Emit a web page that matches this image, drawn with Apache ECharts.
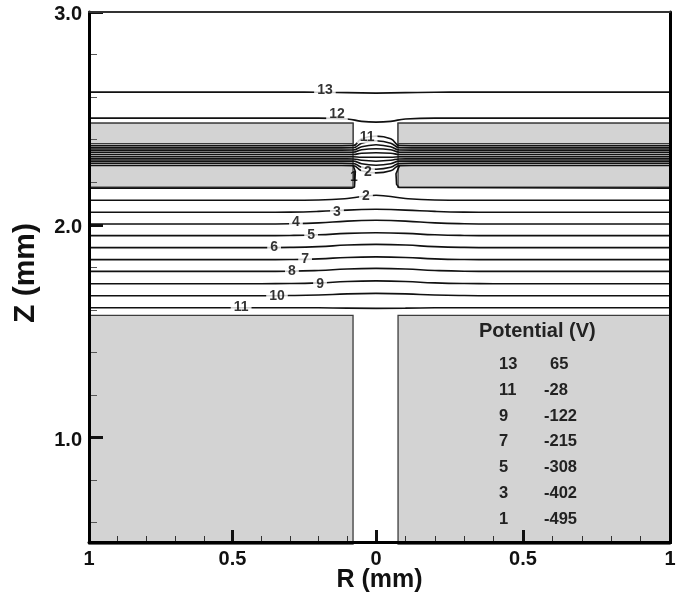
<!DOCTYPE html>
<html><head><meta charset="utf-8">
<style>html,body{margin:0;padding:0;background:#fff}#c{width:681px;height:598px}</style>
<script src="https://cdn.jsdelivr.net/npm/echarts@6/dist/echarts.min.js"></script>
</head><body><div id="c"></div>
<script>
// Contours far from the gap share these R stations
const rOuter = [-1,-0.4,-0.3,-0.2,-0.1,0,0.1,0.2,0.3,0.4,1];
const line13 = [2.6235,2.6235,2.6235,2.623,2.621,2.619,2.621,2.623,2.6235,2.6235,2.6235];
const line3  = [2.0588,2.0588,2.0597,2.063,2.069,2.0729,2.069,2.063,2.0597,2.0588,2.0588];
const line4  = [2.0038,2.0038,2.005,2.009,2.0174,2.0212,2.0174,2.009,2.005,2.0038,2.0038];
const line5  = [1.9492,1.9492,1.950,1.953,1.9595,1.9624,1.9595,1.953,1.950,1.9492,1.9492];
const line6  = [1.8927,1.8927,1.8937,1.8973,1.9048,1.9082,1.9048,1.8973,1.8937,1.8927,1.8927];
const line7  = [1.8362,1.8362,1.837,1.840,1.8465,1.8494,1.8465,1.840,1.837,1.8362,1.8362];
const line8  = [1.7812,1.7812,1.782,1.7855,1.792,1.7953,1.792,1.7855,1.782,1.7812,1.7812];
const line9  = [1.7233,1.7233,1.724,1.727,1.7335,1.7365,1.7335,1.727,1.724,1.7233,1.7233];
const line10 = [1.6668,1.6668,1.6675,1.670,1.6755,1.6776,1.6755,1.670,1.6675,1.6668,1.6668];
const line11 = [1.6104,1.6104,1.6104,1.6100,1.6085,1.6071,1.6085,1.6100,1.6104,1.6104,1.6104];
// Contours 12 and 2 change faster near the axis
const rNear  = [-1,-0.3,-0.2,-0.1,-0.05,0,0.05,0.1,0.2,0.3,1];
const line12 = [2.5012,2.5012,2.5012,2.4975,2.486,2.4824,2.486,2.4975,2.5012,2.5012,2.5012];
const line2  = [2.1153,2.1153,2.1165,2.1235,2.1330,2.1388,2.1330,2.1235,2.1165,2.1153,2.1153];
// Contours through the gap between the upper electrodes
const rBand = [-1,-0.12,-0.08,-0.05,0,0.05,0.08,0.12,1];
const band11 = [2.3718,2.3718,2.3725,2.4047,2.4165,2.4047,2.3725,2.3718,2.3718];
const band10 = [2.3614,2.3614,2.3620,2.3835,2.3953,2.3835,2.3620,2.3614,2.3614];
const band9  = [2.3511,2.3511,2.3515,2.3671,2.3765,2.3671,2.3515,2.3511,2.3511];
const band8  = [2.3407,2.3407,2.3410,2.3529,2.3576,2.3529,2.3410,2.3407,2.3407];
const band7  = [2.3304,2.3304,2.3305,2.3365,2.3388,2.3365,2.3305,2.3304,2.3304];
const band6  = [2.3200,2.3200,2.3198,2.3176,2.3176,2.3176,2.3198,2.3200,2.3200];
const band5  = [2.3096,2.3096,2.3094,2.3035,2.2988,2.3035,2.3094,2.3096,2.3096];
const band4  = [2.2993,2.2993,2.2990,2.2871,2.2800,2.2871,2.2990,2.2993,2.2993];
const band3  = [2.2889,2.2889,2.2884,2.2706,2.2612,2.2706,2.2884,2.2889,2.2889];
const band2  = [2.2786,2.2786,2.2780,2.2541,2.2438,2.2541,2.2780,2.2786,2.2786];
// Contour 1 hugs the electrode faces
const hugLeftR  = [-1,-0.085,-0.075,-0.072,-0.08];
const hugLeftZ  = [2.172,2.172,2.178,2.25,2.28];
const hugRightR = [0.08,0.068,0.07,0.078,1];
const hugRightZ = [2.278,2.24,2.19,2.175,2.172];
// Contour labels
const labelIds = ['13','12','11','2','1','2','3','4','5','6','7','8','9','10','11'];
const labelR   = [-0.178,-0.136,-0.031,-0.028,-0.077,-0.035,-0.136,-0.279,-0.226,-0.355,-0.247,-0.293,-0.195,-0.345,-0.47];
const labelZ   = [2.633,2.52,2.412,2.247,2.224,2.134,2.059,2.012,1.951,1.894,1.838,1.781,1.72,1.664,1.612];
// Electrode blocks: R from, R to, Z from, Z to
const blocksLeft  = [[-1,-0.08,2.1765,2.4776],[-1,-0.08,2.3812,2.4776],[-1,-0.08,0.5,1.5741]];
const blocksRight = [[0.075,1,2.1765,2.4776],[0.075,1,2.3812,2.4776],[0.075,1,0.5,1.5741]];
// Legend table
const legendTitle = 'Potential (V)';
const legendIds = ['13','11','9','7','5','3','1'];
const legendVolts = ['65','-28','-122','-215','-308','-402','-495'];
// Axis ticks
const zMajor = [1,2,3];
const zMinor = [0.6,0.8,1.2,1.4,1.6,1.8,2.2,2.4,2.6,2.8];

const FONT = '"Liberation Sans", Arial, sans-serif';
const INK = '#111';
const allOuter = [line13,line3,line4,line5,line6,line7,line8,line9,line10,line11];
const allNear = [line12,line2];
const allBand = [band11,band10,band9,band8,band7,band6,band5,band4,band3,band2];

function zip(rs, zs){ return rs.map((r,i)=>[r,zs[i]]); }
function contour(pts, side, smooth){
  return {
    type:'line', xAxisIndex: side<0?0:1, yAxisIndex: side<0?0:4,
    data: pts, showSymbol:false, symbol:'none', smooth: smooth,
    lineStyle:{color:'#111', width:1.6}, z:3, silent:true, animation:false
  };
}
function both(rs, zs){
  const p = zip(rs,zs);
  series.push(contour(p.filter(d=>d[0]<=0),-1,0.5), contour(p.filter(d=>d[0]>=0),1,0.5));
}
const series = [];
function blockSeries(data, side){
  return {
    type:'custom', xAxisIndex: side<0?0:1, yAxisIndex: side<0?0:4, z:2, silent:true, animation:false,
    encode:{x:[0,1],y:[2,3]}, data:data,
    renderItem:function(params, api){
      const a = api.coord([api.value(0), api.value(3)]);
      const b = api.coord([api.value(1), api.value(2)]);
      return {type:'rect', shape:{x:a[0],y:a[1],width:b[0]-a[0],height:b[1]-a[1]},
        style:{fill:'#d3d3d3', stroke:'#3c3c3c', lineWidth:1.3}};
    }
  };
}
series.push(blockSeries(blocksLeft,-1), blockSeries(blocksRight,1));
allOuter.forEach(z=>both(rOuter,z));
allNear.forEach(z=>both(rNear,z));
allBand.forEach(z=>both(rBand,z));
series.push(contour(zip(hugLeftR,hugLeftZ),-1,false), contour(zip(hugRightR,hugRightZ),1,false));
series.push({
  type:'scatter', xAxisIndex:0, yAxisIndex:0, symbolSize:0, z:4, silent:true, animation:false, clip:false,
  data: labelIds.map((t,i)=>({value:[labelR[i],labelZ[i]], name:t,
    label: i===4 ? {backgroundColor:'transparent', padding:0} : undefined})),
  label:{show:true, position:'inside', formatter:p=>p.name, color:'#000',
    fontFamily:FONT, fontWeight:'bold', fontSize:14, lineHeight:12,
    backgroundColor:'#fff', padding:[0,3]},
  labelLayout:{hideOverlap:false}
});

const graphicEls = [{
  type:'text', left:479, top:321, z:10, silent:true,
  style:{text:legendTitle, font:'bold 20px '+FONT, fill:'#222'}
}];
legendIds.forEach((t,i)=>{
  const y = 356 + i*25.8;
  graphicEls.push({type:'text', left:499, top:y, z:10, silent:true, style:{text:t, font:'bold 16.5px '+FONT, fill:'#222'}});
  const v = legendVolts[i];
  graphicEls.push({type:'text', left:v.startsWith('-')?544:550, top:y, z:10, silent:true, style:{text:v, font:'bold 16.5px '+FONT, fill:'#222'}});
});

const tickLabel = {color:INK, fontFamily:FONT, fontWeight:'bold', fontSize:20};
const option = {
  animation:false, backgroundColor:'#fff',
  grid:[
    {left:89, top:12, width:287, height:532},
    {left:376, top:12, width:294, height:532},
    {left:89, top:12, width:581, height:532}
  ],
  xAxis:[
    {type:'value', gridIndex:0, position:'bottom', min:-1, max:0, interval:0.5, z:6,
     splitLine:{show:false}, axisLine:{show:false},
     axisTick:{inside:true, length:14, lineStyle:{color:INK,width:3}},
     minorTick:{show:true, splitNumber:5, length:8, lineStyle:{color:'#333',width:1}},
     axisLabel:{...tickLabel, margin:5, showMinLabel:true, showMaxLabel:true, hideOverlap:false,
       formatter:v=>String(Math.abs(v))}},
    {type:'value', gridIndex:1, position:'bottom', min:0, max:1, interval:0.5, z:6,
     splitLine:{show:false}, axisLine:{show:false},
     axisTick:{inside:true, length:14, lineStyle:{color:INK,width:3}},
     minorTick:{show:true, splitNumber:5, length:8, lineStyle:{color:'#333',width:1}},
     axisLabel:{...tickLabel, margin:5, showMinLabel:true, showMaxLabel:true, hideOverlap:false,
       formatter:v=>v===0?'':String(v)}},
    {type:'value', gridIndex:2, position:'bottom', min:-1, max:1, z:7, name:'R (mm)', nameLocation:'middle', nameGap:26,
     nameTextStyle:{color:INK, fontFamily:FONT, fontWeight:'bold', fontSize:25, verticalAlign:'top'},
     splitLine:{show:false}, axisTick:{show:false}, axisLabel:{show:false},
     axisLine:{show:true, onZero:false, lineStyle:{color:'#000',width:3}}},
    {type:'value', gridIndex:2, position:'top', min:-1, max:1, z:7,
     splitLine:{show:false}, axisTick:{show:false}, axisLabel:{show:false},
     axisLine:{show:true, onZero:false, lineStyle:{color:'#333',width:2}}}
  ],
  yAxis:[
    {type:'value', gridIndex:0, position:'left', min:0.5, max:3, z:6,
     splitLine:{show:false}, axisLine:{show:false, onZero:false},
     axisTick:{inside:true, length:14, customValues:zMajor, lineStyle:{color:INK,width:3}},
     axisLabel:{...tickLabel, margin:7, lineHeight:5, verticalAlign:'top', customValues:zMajor, hideOverlap:false, formatter:v=>v.toFixed(1)}},
    {type:'value', gridIndex:0, position:'left', min:0.5, max:3, z:6,
     splitLine:{show:false}, axisLine:{show:false, onZero:false}, axisLabel:{show:false},
     axisTick:{inside:true, length:8, customValues:zMinor, lineStyle:{color:'#555',width:1}}},
    {type:'value', gridIndex:2, position:'left', min:0.5, max:3, z:7, name:'Z (mm)', nameLocation:'middle', nameGap:48,
     nameTextStyle:{color:INK, fontFamily:FONT, fontWeight:'bold', fontSize:30, padding:[0,0,0,8]},
     splitLine:{show:false}, axisTick:{show:false}, axisLabel:{show:false},
     axisLine:{show:true, onZero:false, lineStyle:{color:'#000',width:3}}},
    {type:'value', gridIndex:2, position:'right', min:0.5, max:3, z:7,
     splitLine:{show:false}, axisTick:{show:false}, axisLabel:{show:false},
     axisLine:{show:true, onZero:false, lineStyle:{color:'#000',width:3}}},
    {type:'value', gridIndex:1, position:'left', min:0.5, max:3, show:false}
  ],
  graphic:graphicEls,
  series:series
};
echarts.init(document.getElementById('c'),null,{renderer:'canvas'}).setOption(option);
</script></body></html>
